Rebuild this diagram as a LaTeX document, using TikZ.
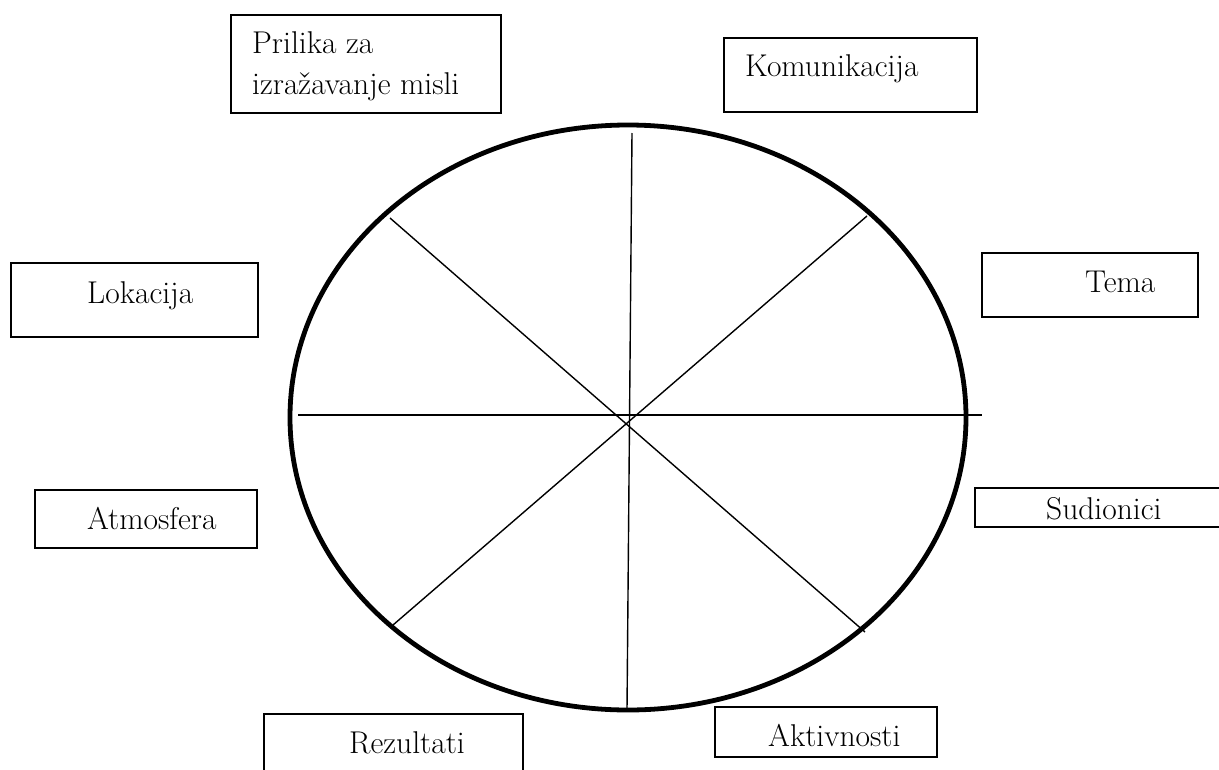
\documentclass[tikz,border=0pt]{standalone}
\usepackage{fontspec}
\usetikzlibrary{shapes.geometric}
\begin{document}
\begin{tikzpicture}[x=1pt,y=-1pt,
  box/.style={draw, line width=1.3pt, inner sep=0pt, rectangle},
  lbl/.style={anchor=base west, inner sep=0pt, font=\fontsize{31.5}{38}\selectfont},
  spoke/.style={line width=1.4pt},
  rim/.style={draw, ellipse, line width=4.8pt, inner sep=0pt}]
\clip (0,0) rectangle (1219,769);
\fill[white] (0,0) rectangle (1219,769);

% wheel
\node[rim, minimum width=676pt, minimum height=585pt] (wheel) at (628,417.5) {};

% spoke end points
\coordinate (hl) at (298,415);
\coordinate (hr) at (982,415);
\coordinate (vt) at (632,133);
\coordinate (vb) at (627,710);
\coordinate (d1a) at (390,218);
\coordinate (d1b) at (865,632);
\coordinate (d2a) at (867,216);
\coordinate (d2b) at (393,625);
\draw[spoke] (hl) -- (hr);
\draw[spoke] (vt) -- (vb);
\draw[spoke] (d1a) -- (d1b);
\draw[spoke] (d2a) -- (d2b);

% boxes
\node[box, minimum width=270pt, minimum height=98pt] (prilika) at (366,64) {};
\node[box, minimum width=253pt, minimum height=74pt] (komunikacija) at (850.5,75) {};
\node[box, minimum width=216pt, minimum height=64pt] (tema) at (1090,285) {};
\node[box, minimum width=247pt, minimum height=74pt] (lokacija) at (134.5,300) {};
\node[box, minimum width=222pt, minimum height=58pt] (atmosfera) at (146,519) {};
\node[box, minimum width=270pt, minimum height=39pt] (sudionici) at (1110,507.5) {};
\node[box, minimum width=259pt, minimum height=80pt] (rezultati) at (393.5,754) {};
\node[box, minimum width=222pt, minimum height=50pt] (aktivnosti) at (826,732) {};

% labels
\node[lbl] (tprilika1) at (252,53) {Prilika za};
\node[lbl] (tprilika2) at (252,94) {izražavanje misli};
\node[lbl] (tkom) at (745,76) {Komunikacija};
\node[lbl] (ttema) at (1085,292) {Tema};
\node[lbl] (tlok) at (87,303) {Lokacija};
\node[lbl] (tatm) at (87,529) {Atmosfera};
\node[lbl] (tsud) at (1046,519) {Sudionici};
\node[lbl] (trez) at (349,753) {Rezultati};
\node[lbl] (takt) at (768,746) {Aktivnosti};
\end{tikzpicture}
\end{document}
